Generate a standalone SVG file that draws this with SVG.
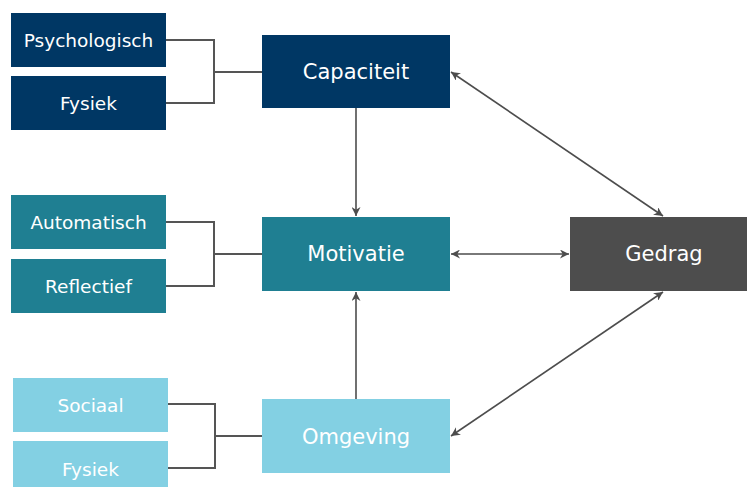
<svg xmlns="http://www.w3.org/2000/svg" width="747" height="487" viewBox="0 0 747 487">
<defs>
<marker id="ah" viewBox="0 0 10 10" refX="10" refY="5" markerWidth="9" markerHeight="9" markerUnits="userSpaceOnUse" orient="auto-start-reverse">
<path d="M0,0 L10,5 L0,10 L3,5 Z" fill="#4d4d4d"/>
</marker>
</defs>
<style>
.t{font-family:"DejaVu Sans",Verdana,sans-serif;fill:#ffffff;text-anchor:middle;dominant-baseline:central}
.s{font-size:18.5px}
.b{font-size:21px}
.c{fill:none;stroke:#555555;stroke-width:2}
.a{fill:none;stroke:#4d4d4d;stroke-width:1.6}
.n1{fill:#003764}
.n2{fill:#1f7f92}
.n3{fill:#83d0e3}
.n4{fill:#4d4d4d}
</style>
<rect width="747" height="487" fill="#ffffff"/>
<g id="connectors">
<path class="c" d="M166,40 H214 V103 H166 M214,72 H262"/>
<path class="c" d="M166,222 H214 V286 H166 M214,254 H262"/>
<path class="c" d="M168,404 H215 V468 H168 M215,436 H262"/>
<line class="a" x1="356" y1="108" x2="356" y2="216" marker-end="url(#ah)"/>
<line class="a" x1="356" y1="399" x2="356" y2="292" marker-end="url(#ah)"/>
<line class="a" x1="451" y1="72" x2="663" y2="216" marker-start="url(#ah)" marker-end="url(#ah)"/>
<line class="a" x1="451" y1="254" x2="569" y2="254" marker-start="url(#ah)" marker-end="url(#ah)"/>
<line class="a" x1="451" y1="436" x2="663" y2="292" marker-start="url(#ah)" marker-end="url(#ah)"/>
</g>
<g id="psychologisch"><rect class="n1" x="11" y="13" width="155" height="54"/><text class="t s" x="88.5" y="40">Psychologisch</text></g>
<g id="fysiek1"><rect class="n1" x="11" y="76" width="155" height="54"/><text class="t s" x="88.5" y="103">Fysiek</text></g>
<g id="capaciteit"><rect class="n1" x="262" y="35" width="188" height="73"/><text class="t b" x="356" y="72">Capaciteit</text></g>
<g id="automatisch"><rect class="n2" x="11" y="195" width="155" height="54"/><text class="t s" x="88.5" y="222">Automatisch</text></g>
<g id="reflectief"><rect class="n2" x="11" y="259" width="155" height="54"/><text class="t s" x="88.5" y="286">Reflectief</text></g>
<g id="motivatie"><rect class="n2" x="262" y="217" width="188" height="74"/><text class="t b" x="356" y="254">Motivatie</text></g>
<g id="sociaal"><rect class="n3" x="13" y="378" width="155" height="54"/><text class="t s" x="90.5" y="405">Sociaal</text></g>
<g id="fysiek2"><rect class="n3" x="13" y="441" width="155" height="46"/><text class="t s" x="90.5" y="469">Fysiek</text></g>
<g id="omgeving"><rect class="n3" x="262" y="399" width="188" height="74"/><text class="t b" x="356" y="437">Omgeving</text></g>
<g id="gedrag"><rect class="n4" x="570" y="217" width="177" height="74"/><text class="t b" x="664" y="254">Gedrag</text></g>
</svg>
